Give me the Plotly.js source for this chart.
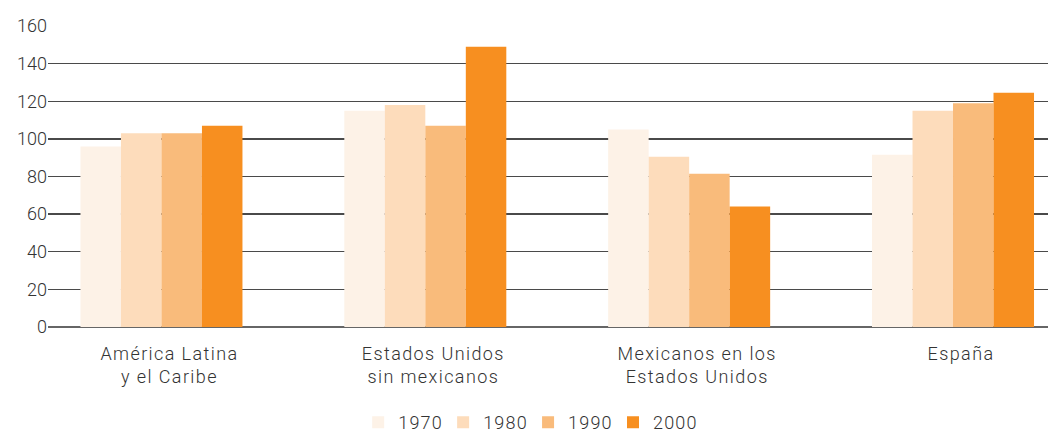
<!DOCTYPE html>
<html>
<head>
<meta charset="utf-8">
<script src="https://cdn.plot.ly/plotly-3.0.1.min.js"></script>
<style>
html,body{margin:0;padding:0;background:#fff;}
#chart{width:1048px;height:432px;}
#chart .xtick text{letter-spacing:1.4px;}
#chart .legendtext{letter-spacing:1.2px;}
</style>
</head>
<body>
<div id="chart"></div>
<script>
const categories = ["América Latina<br>y el Caribe", "Estados Unidos<br>sin mexicanos", "Mexicanos en los<br>Estados Unidos", "España"];
const years = ["1970", "1980", "1990", "2000"];
const v1970 = [96, 115, 105, 91.5];
const v1980 = [103, 118, 90.5, 115];
const v1990 = [103, 107, 81.5, 119];
const v2000 = [107, 149, 64, 124.5];
const colors = ["#FDF2E7", "#FDDCBB", "#F9BB7B", "#F78F20"];
const series = [v1970, v1980, v1990, v2000];

const traces = series.map((vals, i) => ({
  type: "bar",
  name: years[i],
  x: categories,
  y: vals,
  marker: {color: colors[i], line: {width: 0}},
  hoverinfo: "none"
}));

const font = {family: "Roboto, 'DejaVu Sans', sans-serif", size: 18, color: "#333", weight: 300};

const layout = {
  width: 1048, height: 432,
  margin: {l: 48, r: 0, t: 26, b: 105},
  paper_bgcolor: "#fff", plot_bgcolor: "#fff",
  font: font,
  barmode: "group",
  bargap: 0.386,
  bargroupgap: 0,
  showlegend: true,
  legend: {orientation: "h", x: 0.504, xanchor: "center", xref: "container",
           y: 0.022, yanchor: "middle", yref: "container",
           font: font, itemwidth: 30, traceorder: "normal"},
  xaxis: {
    type: "category",
    range: [-0.43, 3.36],
    showgrid: false, zeroline: false, showline: false,
    ticks: "", tickfont: font, automargin: false,
    ticklabelstandoff: 14, ticklabelshift: 8
  },
  yaxis: {
    range: [0, 160],
    tickvals: [0, 20, 40, 60, 80, 100, 120, 140, 160],
    showgrid: true, gridcolor: "#4a4a4a", gridwidth: 1.4,
    zeroline: true, zerolinecolor: "#666", zerolinewidth: 1.6,
    showline: false, ticks: "", tickfont: font, automargin: false,
    layer: "below traces"
  }
};

Plotly.newPlot("chart", traces, layout, {displayModeBar: false, staticPlot: true});
</script>
</body>
</html>
